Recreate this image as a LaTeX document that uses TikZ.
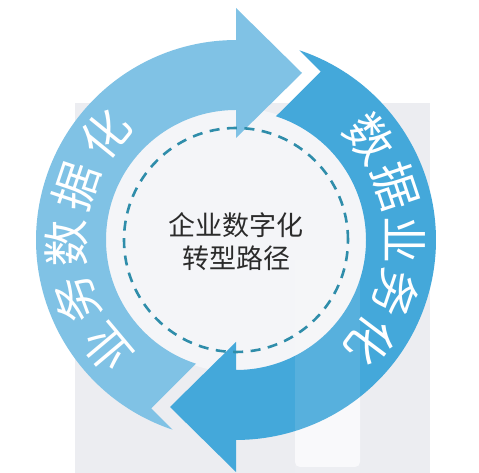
\documentclass[tikz,border=0pt]{standalone}
\usepackage{fontspec}
\newfontfamily\cjk{Noto Sans CJK SC}
\definecolor{bggray}{HTML}{ECEDF1}
\definecolor{colwhite}{HTML}{F9F9FB}
\definecolor{diskfill}{HTML}{F4F5F8}
\definecolor{lightarrow}{HTML}{80C2E5}
\definecolor{darkarrow}{HTML}{44A8DA}
\definecolor{dashcol}{HTML}{2F8DAA}
\definecolor{titlecol}{HTML}{2B2B2B}
\tikzset{
  ringchar/.style={text=white, inner sep=0pt, font=\cjk\fontsize{47}{47}\selectfont},
  dashring/.style={draw=dashcol, line width=2.6pt, dash pattern=on 10pt off 7.5pt},
  titletext/.style={text=titlecol, align=center, inner sep=0pt, font=\cjk\fontsize{27}{33}\selectfont}
}
\begin{document}
\begin{tikzpicture}[x=1pt,y=1pt]
\useasboundingbox (0,0) rectangle (479,473);
\fill[white] (0,0) rectangle (479,473);
\fill[bggray] (75,0) rectangle (430,370);
\fill[colwhite, rounded corners=5pt] (295,6) rectangle (360,230);
\begin{scope}[shift={(236,233)}]
  \fill[diskfill] (0,0) circle (132);
  % right (dark) arrow, head at bottom
  \fill[darkarrow] (0,-200) -- (0,-232) -- (-66,-167) -- (0,-102) -- (0,-130)
     arc[start angle=-90, end angle=72.1, radius=130]
     -- (84.7,168.4) -- (63.4,189.7)
     arc[start angle=71.5, end angle=-90, radius=200] -- cycle;
  % left (light) arrow, head at top
  \fill[lightarrow, rotate=180] (0,-200) -- (0,-232) -- (-66,-167) -- (0,-102) -- (0,-130)
     arc[start angle=-90, end angle=72.1, radius=130]
     -- (84.7,168.4) -- (63.4,189.7)
     arc[start angle=71.5, end angle=-90, radius=200] -- cycle;
  \fill[white, opacity=0.10] (59,-240) rectangle (124,-20);
  \draw[dashring] (0,0) circle (112);
  \node[titletext] (title) at (0,-2) {企业数字化\\转型路径};
  % left ring text
  \node[ringchar, rotate=130] (l1) at (220:169) {业};
  \node[ringchar, rotate=110.5] (l2) at (200.5:170) {务};
  \node[ringchar, rotate=91] (l3) at (181:170) {数};
  \node[ringchar, rotate=71.5] (l4) at (161.5:169) {据};
  \node[ringchar, rotate=51] (l5) at (141:168) {化};
  % right ring text
  \node[ringchar, rotate=-53] (r1) at (37:168) {数};
  \node[ringchar, rotate=-71.5] (r2) at (18.5:169) {据};
  \node[ringchar, rotate=-90] (r3) at (0:169) {业};
  \node[ringchar, rotate=-108.5] (r4) at (-18.5:169) {务};
  \node[ringchar, rotate=-127] (r5) at (-37:168) {化};
\end{scope}
\end{tikzpicture}
\end{document}
